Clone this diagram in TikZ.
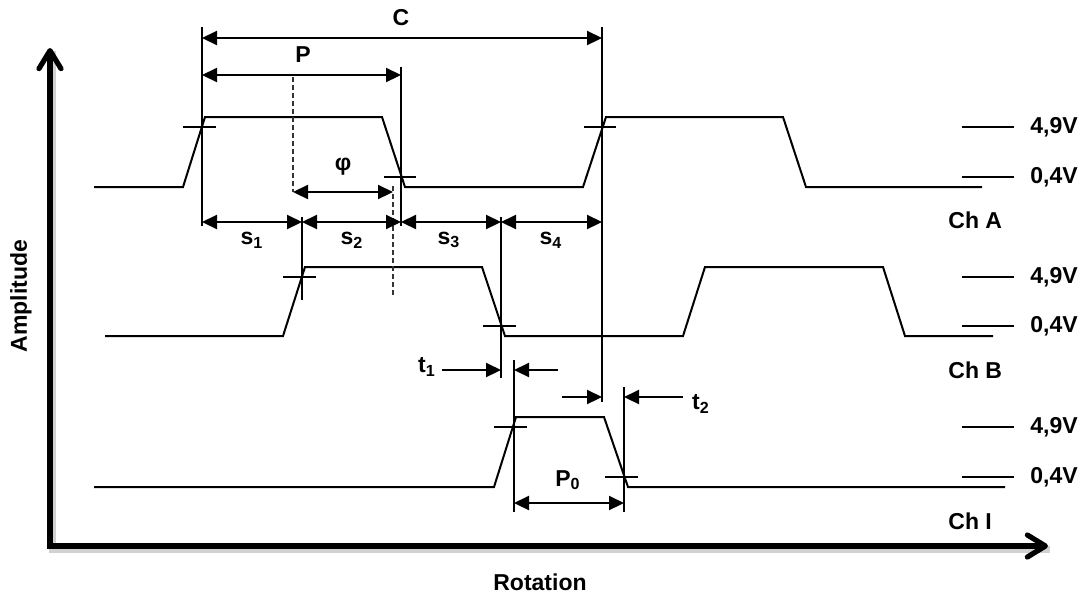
\documentclass[tikz,border=0pt]{standalone}
\usepackage{fontspec}
\setmainfont{Liberation Sans}
\usetikzlibrary{arrows.meta}
\begin{document}
\begin{tikzpicture}[x=0.5pt,y=-0.5pt,
  lbl/.style={font=\fontsize{11.5}{13}\selectfont\bfseries, inner sep=0pt},
  sig/.style={line width=1pt, line join=miter},
  vline/.style={line width=0.65pt},
  tickmark/.style={line width=0.8pt},
  dsh/.style={line width=0.65pt, dash pattern=on 2.5pt off 1.5pt, black!80},
  dimarrow/.style={line width=1.1pt, {Triangle[length=7.5pt,width=7pt]}-{Triangle[length=7.5pt,width=7pt]}},
  onearrow/.style={line width=1.1pt, -{Triangle[length=7.5pt,width=7pt]}},
  axis/.style={line width=2.6pt, line join=miter, {Straight Barb[length=9pt,width=11pt,round]}-{Straight Barb[length=9pt,width=11pt,round]}},
  axshadow/.style={line width=3.5pt, black!18},
  level/.style={line width=1pt}
]
\useasboundingbox (0,0) rectangle (1082,596);

% axes
\coordinate (ytip) at (50,48);
\coordinate (orig) at (50,546);
\coordinate (xtip) at (1048,546);
\draw[axshadow] ([shift={(2,3)}]ytip) -- ([shift={(2,3)}]orig) -- ([shift={(2,3)}]xtip);
\draw[axis] (ytip) -- (orig) -- (xtip);
\node[lbl, rotate=90] (amp) at (21,296) {Amplitude};
\node[lbl] (rot) at (540,582) {Rotation};

% Channel A
\draw[sig] (94,187) -- (183,187) -- (205,117) -- (382,117) -- (405,187) -- (583,187) -- (606,117) -- (783,117) -- (806,187) -- (982,187);
\draw[tickmark] (183,127) -- (216,127);
\draw[tickmark] (384,177) -- (416,177);
\draw[tickmark] (584,127) -- (616,127);

% Channel B
\draw[sig] (105,336) -- (283,336) -- (305,267) -- (482,267) -- (505,336) -- (683,336) -- (705,267) -- (883,267) -- (905,336) -- (993,336);
\draw[tickmark] (283,277) -- (316,277);
\draw[tickmark] (483,326) -- (516,326);

% Channel I
\draw[sig] (94,487) -- (494,487) -- (516,417) -- (604,417) -- (628,487) -- (1005,487);
\draw[tickmark] (494,427) -- (527,427);
\draw[tickmark] (605,477) -- (638,477);

% level markers and labels
\foreach \yy/\txt/\nm in {127/{4,9V}/la1, 177/{0,4V}/la2, 277/{4,9V}/lb1, 326/{0,4V}/lb2, 427/{4,9V}/li1, 477/{0,4V}/li2}{
  \draw[level] (962,\yy) -- (1014,\yy);
  \node[lbl, anchor=west] (\nm) at (1030,\yy) {\txt};
}
\node[lbl, anchor=west] (chA) at (948,220) {Ch A};
\node[lbl, anchor=west] (chB) at (948,370) {Ch B};
\node[lbl, anchor=west] (chI) at (948,521) {Ch I};

% vertical reference lines
\coordinate (v1t) at (202,27);  \coordinate (v1b) at (202,226);
\coordinate (v2t) at (401,67);  \coordinate (v2b) at (401,226);
\coordinate (v3t) at (602,27);  \coordinate (v3b) at (602,402);
\coordinate (v4t) at (302,217); \coordinate (v4b) at (302,300);
\coordinate (v5t) at (501,217); \coordinate (v5b) at (501,378);
\coordinate (v6t) at (514,360); \coordinate (v6b) at (514,512);
\coordinate (v7t) at (624,387); \coordinate (v7b) at (624,512);
\draw[vline] (v1t) -- (v1b);
\draw[vline] (v2t) -- (v2b);
\draw[vline] (v3t) -- (v3b);
\draw[vline] (v4t) -- (v4b);
\draw[vline] (v5t) -- (v5b);
\draw[vline] (v6t) -- (v6b);
\draw[vline] (v7t) -- (v7b);
\coordinate (d1t) at (293,77);  \coordinate (d1b) at (293,192);
\coordinate (d2t) at (393,186); \coordinate (d2b) at (393,296);
\draw[dsh] (d1t) -- (d1b);
\draw[dsh] (d2t) -- (d2b);

% C and P
\coordinate (cL) at (202,38);  \coordinate (cR) at (602,38);
\draw[dimarrow] (cL) -- (cR);
\node[lbl] (C) at (401,18) {C};
\coordinate (pL) at (202,75);  \coordinate (pR) at (401,75);
\draw[dimarrow] (pL) -- (pR);
\node[lbl] (P) at (303,55) {P};

% phi
\coordinate (phL) at (293,192); \coordinate (phR) at (393,192);
\draw[dimarrow] (phL) -- (phR);
\node[lbl] (phi) at (343,167) {φ};

% s1..s4
\coordinate (s0) at (202,222);
\coordinate (s1) at (302,222);
\coordinate (s2) at (401,222);
\coordinate (s3) at (501,222);
\coordinate (s4) at (602,222);
\draw[dimarrow] (s0) -- (s1);
\draw[dimarrow] (s1) -- (s2);
\draw[dimarrow] (s2) -- (s3);
\draw[dimarrow] (s3) -- (s4);
\node[lbl] (ls1) at (252,240) {s\textsubscript{1}};
\node[lbl] (ls2) at (352,240) {s\textsubscript{2}};
\node[lbl] (ls3) at (449,240) {s\textsubscript{3}};
\node[lbl] (ls4) at (551,240) {s\textsubscript{4}};

% t1
\coordinate (t1a) at (442,370); \coordinate (t1b) at (501,370);
\coordinate (t1c) at (558,370); \coordinate (t1d) at (514,370);
\draw[onearrow] (t1a) -- (t1b);
\draw[onearrow] (t1c) -- (t1d);
\node[lbl] (lt1) at (427,367) {t\textsubscript{1}};

% t2
\coordinate (t2a) at (562,397); \coordinate (t2b) at (602,397);
\coordinate (t2c) at (683,397); \coordinate (t2d) at (624,397);
\draw[onearrow] (t2a) -- (t2b);
\draw[onearrow] (t2c) -- (t2d);
\node[lbl] (lt2) at (701,404) {t\textsubscript{2}};

% P0
\coordinate (p0L) at (514,503); \coordinate (p0R) at (624,503);
\draw[dimarrow] (p0L) -- (p0R);
\node[lbl] (P0) at (568,480) {P\textsubscript{0}};
\end{tikzpicture}
\end{document}
